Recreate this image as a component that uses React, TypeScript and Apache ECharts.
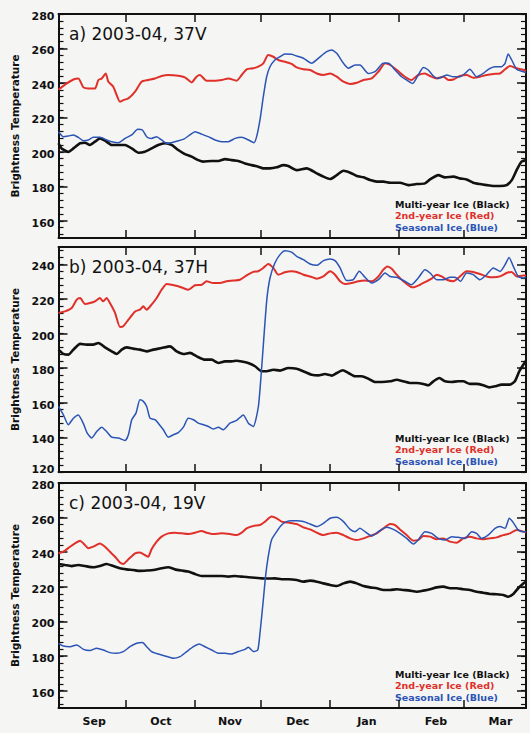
import React, { useEffect, useRef } from "react";
import * as echarts from "echarts";

// ---------- data ----------
const monthLabels = ["Sep", "Oct", "Nov", "Dec", "Jan", "Feb", "Mar"];
const monthMidDays = [16, 46, 77, 107.5, 138.5, 169.5, 198.5];
const monthStartDays = [30, 61, 91, 122, 153, 182];

const panelTitles = ["a) 2003-04, 37V", "b) 2003-04, 37H", "c) 2003-04, 19V"];
const yMins = [150, 120, 150];
const yMaxs = [280, 250, 280];
const yTicksA = [160, 180, 200, 220, 240, 260, 280];
const yTicksB = [120, 140, 160, 180, 200, 220, 240];
const yTicksC = [160, 180, 200, 220, 240, 260, 280];
const legendNames = ["Multi-year Ice (Black)", "2nd-year Ice (Red)", "Seasonal Ice (Blue)"];

// day index from 1 Sep 2003, brightness temperature (K)
const a37vBlack = [[0,205],[1.4,202],[4.4,200],[6.7,202],[9.7,205],[11.9,205.3],[14.1,204],[16.4,205.9],[18.6,207.8],[20.9,206.5],[23.9,204],[26.9,204],[29.9,204],[32.9,202],[35.9,199.5],[38.8,200.1],[41.8,202],[44.8,204],[47.8,205],[50.8,204],[53.8,201.1],[56.8,198.7],[59.8,197.2],[62.8,195.2],[65,194.3],[68.8,194.7],[71.8,194.7],[74.8,195.8],[77.8,195.2],[80.8,194.7],[83.8,193.3],[86.8,192.3],[89.7,191.4],[92,190.4],[95,190.4],[98,191],[101,192.3],[103.2,191.8],[107,189.4],[111.5,190.4],[116,187.5],[119,185.6],[122,184.2],[125,186.5],[128,189],[131,187.9],[134,186],[137,185.2],[140,183.6],[143,182.7],[146,182.7],[149,182.1],[153.4,182.1],[157.1,180.7],[160.9,181.3],[164.6,181.7],[166.9,184],[170.6,186.5],[173.6,185.2],[177.4,185.6],[180.3,184.6],[183.3,184],[186.3,182.1],[189.3,181.3],[192.3,180.7],[195.3,180.2],[198.3,180.2],[201.3,180.7],[203.6,183.6],[205.8,189.4],[208,194.3],[210,195.2]];
const a37vRed = [[0,236],[2.9,239],[6.7,242],[8.9,242.6],[11.2,237.4],[13.4,236.8],[16.4,236.8],[17.9,241.7],[19.4,242.6],[21.2,245.5],[22.4,240.7],[24.6,237.8],[26.1,233],[27.6,229.1],[29.1,230],[31.4,231],[34.4,234.9],[37.3,240.7],[40.3,241.7],[43.3,242.6],[46.3,244],[49.3,244.6],[53.8,244.2],[56.8,243.2],[59.8,240.3],[62,243.6],[63.5,244.6],[66.5,241.3],[70.3,241.3],[73.3,241.7],[76.3,242.6],[80,241.3],[82.3,244.6],[84.5,247.9],[87.5,248.5],[89.7,249.4],[92,251.4],[94.2,256.2],[96.5,255.2],[98.7,253.3],[101.7,252.3],[104.7,251],[107,249],[110,247.9],[113,247.5],[116,245.5],[119,244.6],[122,245.5],[125,243.6],[128,240.7],[131,239.4],[134,240.1],[137,241.7],[140.7,242.6],[143.7,246.5],[146.7,251.4],[149,250.4],[152,247.5],[155.6,243.6],[158.6,241.7],[161.6,244.6],[164.6,245.5],[166.9,244],[169.9,242.6],[172.9,243.6],[175.1,241.7],[177.4,242],[180.3,244],[183.3,244.6],[186.3,243],[189.3,243.6],[192.3,244.6],[195.3,245.2],[198.3,245.5],[200.6,247.9],[202.8,249.8],[205.8,248.5],[208.8,247.5],[210,247.1]];
const a37vBlue = [[0,211.7],[2.2,208.8],[4.4,209.2],[6.7,209.8],[8.9,208.4],[11.2,206.5],[13.4,206.9],[15.6,208.4],[18.6,208.4],[21.6,206.9],[23.9,205.9],[26.9,205.3],[29.9,207.8],[32.9,209.8],[35.6,213.1],[37.7,212.7],[39.6,208.8],[41.8,207.8],[44.1,208.8],[46.3,206.9],[48.6,204.9],[52.3,205.9],[56,207.2],[59,209.8],[61.3,211.7],[64.3,210.3],[67.3,208.8],[70.3,206.9],[73.3,205.9],[76.3,205.9],[79.3,207.8],[82.3,208.4],[85.3,206.9],[87.8,205.3],[89,208.8],[90.5,218.5],[92,232],[93.5,243.6],[95,249.4],[97.2,253.3],[99.5,255.2],[101.7,256.8],[104.7,256.6],[107,255.6],[110,254.3],[113.7,251.4],[116.7,254.3],[120.5,258.1],[122.7,259.1],[125,257.2],[128,251.4],[130.2,248.5],[133.2,250.4],[135.4,250.4],[139.2,245.5],[142.2,246.5],[145.9,251.4],[148.2,251.4],[151.2,247.5],[154.1,243.6],[156.4,241.7],[159.1,239.7],[161.6,244.6],[163.9,249],[166.1,247.5],[168.4,244],[170.6,242.6],[174.4,244.6],[177.4,243.6],[180.3,243.6],[182.6,245.5],[184.8,247.9],[187.8,243.6],[190.8,245.5],[193.1,247.9],[196.1,249.4],[199,249.4],[200.6,251.4],[202,256.8],[203.6,253.3],[205.8,247.9],[208.8,246.5],[210,245.9]];

const b37hBlack = [[0,190.7],[2.2,188.2],[4.4,187.8],[6.7,190.7],[9.7,194],[12.6,193.6],[15.6,193.6],[17.9,194.5],[20.9,192],[23.9,189.7],[26.1,188.2],[28.4,190.7],[30.6,192],[33.6,191.3],[36.6,190.7],[39.6,189.7],[42.6,190.7],[46.3,191.6],[50.1,192.6],[53.1,189.7],[56.1,188.2],[59.1,188.8],[62.1,186.8],[65.8,184.9],[68.8,184.9],[71.8,183],[74.8,183.9],[77.8,183.9],[80,184.3],[82.3,183.9],[85.2,183],[88.3,181.1],[91.2,178.2],[93.5,178.2],[96.5,179.1],[99.5,178.6],[103.2,180.1],[107,179.7],[110.7,177.8],[113.7,176.2],[116.7,175.8],[119.7,176.6],[122.7,175.7],[125,177.2],[127.7,178.8],[130.2,177.2],[133.2,175.3],[136.2,175.3],[139.2,173.9],[142.2,172],[145.2,172],[148.9,172.4],[151.9,173.3],[154.9,172.4],[157.9,171.4],[160.9,171.4],[163.9,170.9],[166.1,170.1],[168.4,172.4],[171.1,174.3],[173.6,172.4],[176.6,172],[179.6,172.4],[181.8,172.4],[184.8,170.9],[187.8,170.9],[190.8,170.1],[193.5,168.9],[196.1,169.5],[199.1,170.5],[202.8,170.5],[205,172.4],[207,178.2],[208.8,182],[210,184.3]];
const b37hRed = [[0,211.9],[2.9,212.8],[5.9,214.8],[8.2,219.6],[9.7,220.5],[11.9,217.1],[14.1,217.6],[16.4,218.6],[18.6,220.5],[20.1,218.6],[21.6,220.5],[23.1,217.6],[25.4,211.9],[27.6,203.8],[29.1,204.2],[31.4,208],[34.4,212.8],[36.6,213.8],[38.1,215.7],[39.6,213.8],[41.8,216.7],[44.1,220.5],[46.3,225.3],[48.6,228.6],[50.8,228.2],[53.8,227.3],[56,226.3],[58.3,225.3],[61.3,227.9],[64.3,228.2],[66.5,230.2],[69.5,229.2],[72.5,229.2],[75.5,230.2],[78.5,230.6],[81.5,231.1],[84.5,233.6],[87.5,235.6],[89.7,236],[92,237.9],[94.2,240.2],[96.5,237.9],[98.7,234],[101.7,235.4],[104.7,236],[107,235.6],[110,234],[113,233],[116,231.7],[119,233],[122,236],[124.2,234],[126.5,230.2],[128.7,228.6],[131.7,229.2],[134.7,230.2],[137.7,230.6],[140.7,230.2],[143.7,233],[145.9,236.9],[147.7,238.8],[149.7,237.5],[151.9,234],[154.9,230.2],[157.9,227.3],[159.4,226.7],[162.4,228.2],[165.4,230.2],[167.6,231.7],[169.9,234],[172.1,233],[174.4,231.1],[177.4,230.2],[180.3,233],[183.3,236],[186.3,235.6],[189.3,234.4],[192.3,233],[195.3,232.5],[198.3,233],[201.3,235],[203.6,235.6],[205.8,233],[208.8,233.6],[210,233.6]];
const b37hBlue = [[0,157.9],[2.2,153],[4.4,147.3],[6.7,151.1],[8.9,153],[11.1,148.2],[12.9,142.5],[14.9,139.6],[17.2,143.4],[19.4,145.9],[21.6,143.4],[23.9,140.1],[26.9,139.6],[29.9,138.2],[31.4,141.5],[32.9,150.2],[34.8,154],[36.6,161.7],[38.1,160.8],[39.6,157.9],[41.1,151.1],[43.4,150.2],[44.8,148.2],[47.1,144.4],[49.3,140.1],[51.6,141.5],[53.8,142.8],[56.1,145.9],[58.3,151.1],[60.6,150.2],[62.8,148.2],[65.1,147.3],[67.3,146.3],[69.5,144.8],[71.8,145.9],[74,144.4],[77,148.2],[80,149.8],[83,153],[85.3,148.2],[87.5,146.3],[89.8,158],[91.3,181],[93.5,218.6],[95,232.1],[97.2,240.8],[99.5,245.6],[101.7,247.9],[104.7,247],[107,244.6],[110,242.7],[113,240.2],[116,239.4],[119,242.1],[122,243.1],[124.2,242.1],[126.5,237.9],[129.4,230.6],[132.4,231.1],[135.1,236],[137.7,232.5],[140.7,229.2],[143.7,231.1],[146.7,235],[148.9,233],[151.9,232.5],[155.6,230.2],[158.6,228.2],[161.6,232.1],[164.6,236.9],[166.9,235],[169.9,231.1],[172.9,231.1],[175.9,232.5],[178.1,232.5],[180.6,230.2],[183.3,235],[186.3,234],[189.3,231.1],[192.3,234],[195.3,237.9],[198.3,235.9],[200.6,239.8],[202.4,244],[204.3,238.8],[206.5,233],[208.8,232.1],[210,232.5]];

const c19vBlack = [[0,233.2],[2.9,232.6],[5.9,232],[8.9,232.6],[11.9,232],[15.6,231.3],[18.6,232],[21.6,233.2],[24.6,232],[27.6,230.7],[30.6,230.1],[33.6,229.7],[36.6,229.2],[39.6,229.4],[42.6,229.7],[46.3,230.7],[49.3,231.3],[52.3,230.1],[55.3,229.4],[58.3,228.8],[61.3,227.4],[64.3,226.3],[67.3,226.3],[70.3,226.3],[73.3,226.3],[76.3,225.9],[79.3,226.3],[82.3,225.9],[85.3,225.5],[88.2,225.3],[91.2,224.9],[94.2,224.8],[97.2,224.9],[100.2,224.4],[103.2,224.4],[107,224],[110,223],[113,223.6],[116,223],[119,222],[122,221.1],[125,220.5],[128,222],[131,223],[134,222],[137,220.5],[140,219.7],[143,219.2],[146,218.2],[149,218.2],[152,218.6],[154.9,218.2],[157.9,217.8],[160.9,217.2],[163.9,217.8],[166.9,218.6],[169.9,219.7],[172.9,220.1],[175.9,219.2],[178.9,219.2],[181.8,218.6],[184.8,218.2],[187.8,217.2],[190.8,216.6],[193.8,215.9],[196.8,215.7],[199.8,215.3],[202,214.3],[204.3,215.9],[206.5,219.2],[208.8,222],[210,223]];
const c19vRed = [[0,239.4],[2.2,240.3],[5.2,243.2],[7.4,245.1],[9.7,246.7],[11.2,245.1],[13.4,242.3],[15.6,243.2],[18.6,245.1],[20.9,243.2],[23.1,240.3],[25.4,237.4],[27.6,234],[29.1,233.2],[31.4,235.9],[34.4,239.4],[36.6,239.8],[38.8,238.4],[40.3,237.4],[41.8,241.7],[44.1,246.1],[46.3,249],[49.3,250.9],[52.3,251.3],[55.3,250.9],[58.3,250.5],[61.3,251.3],[64.3,252.3],[66.5,251.3],[69.5,250.5],[73.3,250.9],[77,250.5],[80,249.9],[82.3,251.3],[84.5,253.8],[87.5,255.2],[90.5,255.7],[92.8,257.7],[95.7,260.6],[98,259.6],[100.2,257.7],[103.2,257.1],[107,256.3],[110,254.4],[113,253.2],[116,251.3],[119,249.9],[122,250.9],[125,251.3],[128,249.9],[131,248],[134,247.1],[137,248],[140,249.4],[143,250.9],[146,253.8],[148.9,256.3],[151.2,255.7],[153.4,253.2],[156.4,249.9],[159.4,246.7],[161.6,247.1],[163.9,249.4],[166.9,249],[169.9,247.5],[172.9,248],[175.9,246.1],[178.9,245.5],[181.8,248],[184.8,249],[187.8,248],[190.8,247.5],[193.8,248],[196.8,248.6],[199.8,249.9],[202.8,250.9],[205.8,252.9],[208.8,251.9],[210,251.3]];
const c19vBlue = [[0,187.4],[2.2,185.8],[5.2,185.4],[8.2,186.4],[11.2,183.9],[14.1,183.2],[17.1,184.5],[20.1,183.5],[23.1,182],[26.1,181.6],[29.1,182.6],[32.1,185.4],[35.1,187.4],[37.7,187.8],[39.6,185.4],[41.8,182.6],[44.8,181.2],[47.8,180.1],[51.6,178.7],[54.6,179.7],[57.6,182.6],[60.6,185.4],[63.1,187],[65.8,185.4],[68.8,183.5],[71.8,181.6],[74.8,181.6],[77.8,181.2],[80.8,182.6],[83.8,183.9],[85.3,185.1],[87.5,182.6],[89.5,183.5],[90.5,193.2],[92,212.4],[93,225.9],[94.2,237.4],[95.7,247.1],[98,251.9],[100.2,255.7],[102.4,257.7],[104.7,258.2],[107,258.2],[110,257.7],[113,256.3],[116,254.8],[119,256.7],[122,259.6],[125,260.2],[128,257.7],[131,253.2],[133.2,251.9],[135.4,253.8],[137.7,251.9],[140.7,249.4],[143.7,251.9],[147.4,254.4],[150.4,253.2],[153.4,250.9],[156.4,248],[159.4,244.8],[161.6,247.1],[164.6,251.9],[167.6,250.9],[170.6,248],[173.6,247.1],[176.6,249],[179.6,248.6],[182.6,248],[185.6,251.9],[187.8,250.9],[190.1,248],[193.1,250],[196.1,253.8],[198.3,254.8],[200.6,253.8],[202.5,259.6],[204.3,257.1],[206.5,252.9],[208.8,251.9],[210,251.9]];

// ---------- styling / layout ----------
const FONT = "DejaVu Sans";
const INK = "#111111";
const RED = "#e0302a";
const BLUE = "#2b54b5";
const GRID_LEFT = 58.5;
const GRID_W = 467.5;
const GRID_TOPS = [14, 247, 483];
const GRID_HS = [224, 225, 225];

const panelSeries = [
  [a37vBlack, a37vRed, a37vBlue],
  [b37hBlack, b37hRed, b37hBlue],
  [c19vBlack, c19vRed, c19vBlue],
];
const majorTicks = [yTicksA, yTicksB, yTicksC];

function minorTicks(min: number, max: number) {
  const out: number[] = [];
  const start = Math.ceil(min / 4) * 4;
  for (let v = start; v <= max; v += 4) out.push(v);
  return out;
}

function buildOption() {
  const grid: any[] = [];
  const xAxis: any[] = [];
  const yAxis: any[] = [];
  const series: any[] = [];
  const graphic: any[] = [];
  const lineColor = { color: INK, width: 2 };

  for (let i = 0; i < 3; i++) {
    grid.push({ left: GRID_LEFT, top: GRID_TOPS[i], width: GRID_W, height: GRID_HS[i], containLabel: false });
    const xBase = {
      type: "value", gridIndex: i, min: 0, max: 210,
      axisLine: { show: true, onZero: false, lineStyle: lineColor },
      axisTick: { show: true, inside: true, length: 8, customValues: monthStartDays, lineStyle: { color: INK, width: 1.5 } },
      splitLine: { show: false },
    };
    xAxis.push({
      ...xBase, position: "bottom",
      axisLabel: i === 2 ? {
        show: true, customValues: monthMidDays, margin: 8,
        fontFamily: FONT, fontWeight: "bold", fontSize: 11, color: INK,
        formatter: (v: number) => {
          const k = monthMidDays.findIndex((d) => Math.abs(d - v) < 0.01);
          return k >= 0 ? monthLabels[k] : "";
        },
      } : { show: false },
    });
    xAxis.push({ ...xBase, position: "top", axisLabel: { show: false } });

    const yBase = {
      type: "value", gridIndex: i, min: yMins[i], max: yMaxs[i],
      splitLine: { show: false },
    };
    const minors = minorTicks(yMins[i], yMaxs[i]);
    const lowVal = yMins[i];
    const sides = ["left", "right"];
    for (const side of sides) {
      yAxis.push({
        ...yBase, position: side,
        axisLine: { show: true, onZero: false, lineStyle: lineColor },
        axisTick: { show: true, inside: true, length: 9, customValues: majorTicks[i], lineStyle: { color: INK, width: 1.5 } },
        axisLabel: side === "left" ? {
          show: true, customValues: majorTicks[i], margin: 4,
          formatter: (v: number) => (v === lowVal ? "{u|" + v + "}" : "{d|" + v + "}"),
          rich: {
            d: { fontFamily: FONT, fontWeight: "bold", fontSize: 11, color: INK, padding: [5, 0, 0, 0] },
            u: { fontFamily: FONT, fontWeight: "bold", fontSize: 11, color: INK, padding: [0, 0, 5, 0] },
          },
        } : { show: false },
        name: side === "left" ? "Brightness Temperature" : "",
        nameLocation: "middle", nameGap: 38,
        nameTextStyle: { fontFamily: FONT, fontWeight: "bold", fontSize: 10.5, color: INK },
      });
      yAxis.push({
        ...yBase, position: side,
        axisLine: { show: false, onZero: false },
        axisTick: { show: true, inside: true, length: 5, customValues: minors, lineStyle: { color: INK, width: 1.2 } },
        axisLabel: { show: false },
      });
    }

    const colors = [INK, RED, BLUE];
    const widths = [2.6, 2, 1.5];
    panelSeries[i].forEach((data, k) => {
      series.push({
        type: "line", name: legendNames[k], xAxisIndex: 2 * i, yAxisIndex: 4 * i,
        data, showSymbol: false, smooth: 0.2,
        lineStyle: { color: colors[k], width: widths[k] },
        itemStyle: { color: colors[k] }, z: 2 + k,
      });
    });

    graphic.push({
      type: "text", left: 69, top: GRID_TOPS[i] + 21.5 - 10,
      style: { text: panelTitles[i], fontFamily: FONT, fontSize: 17, fill: INK },
    });
    const bottom = GRID_TOPS[i] + GRID_HS[i];
    const offs = [33, 21.5, 10];
    legendNames.forEach((nm, k) => {
      graphic.push({
        type: "text", left: 395, top: bottom - offs[k] - 6,
        style: { text: nm, fontFamily: FONT, fontWeight: "bold", fontSize: 9.5, fill: colors[k] },
      });
    });
  }

  return {
    animation: false,
    backgroundColor: "#f5f5f4",
    grid, xAxis, yAxis, series, graphic,
  };
}

export default function App() {
  const ref = useRef<HTMLDivElement>(null);
  useEffect(() => {
    if (!ref.current) return;
    const chart = echarts.init(ref.current, undefined, { renderer: "svg" });
    chart.setOption(buildOption() as any);
    return () => chart.dispose();
  }, []);
  return <div ref={ref} style={{ position: "absolute", left: 0, top: 0, width: 530, height: 733 }} />;
}
